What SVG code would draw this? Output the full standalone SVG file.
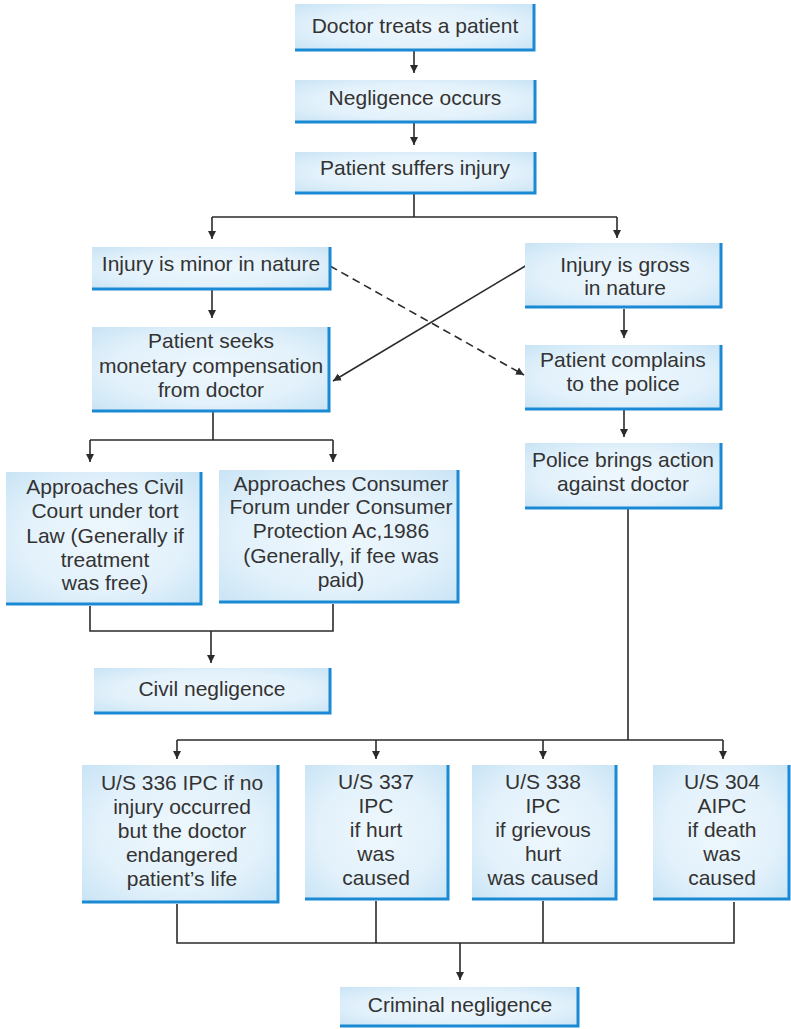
<svg xmlns="http://www.w3.org/2000/svg" width="791" height="1029" viewBox="0 0 791 1029">
<defs>
<radialGradient id="g" cx="0.5" cy="0.5" r="0.7">
<stop offset="0" stop-color="#eef7fd"/>
<stop offset="0.6" stop-color="#e2f1fb"/>
<stop offset="1" stop-color="#c9e4f5"/>
</radialGradient>
<marker id="ah" markerWidth="8" markerHeight="10" refX="8" refY="4" orient="auto" markerUnits="userSpaceOnUse" viewBox="0 0 8 8">
<path d="M0,0 L8,4 L0,8 Z" fill="#2b2b2b"/>
</marker>
<style>
.box{fill:url(#g);}
.edge{fill:none;stroke:#1a8ad4;stroke-width:3;}
.t{font-family:"Liberation Sans",Arial,sans-serif;font-size:21px;fill:#333;text-anchor:middle;}
.c{fill:none;stroke:#2b2b2b;stroke-width:1.6;}
.a{marker-end:url(#ah);}
.d{stroke-dasharray:8 5;}
</style>
</defs>
<rect width="791" height="1029" fill="#ffffff"/>

<g id="connectors">
<path class="c a" d="M414,51 V73"/>
<path class="c a" d="M414,123 V145"/>
<path class="c" d="M414,194 V217 M212,217 H617"/>
<path class="c a" d="M212,217 V239"/>
<path class="c a" d="M617,217 V238"/>
<path class="c a" d="M212,290 V318"/>
<path class="c a" d="M624,309 V338"/>
<path class="c a" d="M624,410 V437"/>
<path class="c a" d="M527,265 L333,381"/>
<path class="c a d" d="M330,266 L524,375"/>
<path class="c" d="M213,412 V440 M90,440 H333"/>
<path class="c a" d="M90,440 V462"/>
<path class="c a" d="M333,440 V462"/>
<path class="c" d="M90,606 V631 H333 V604"/>
<path class="c a" d="M211,631 V663"/>
<path class="c" d="M628,509 V740 M177,740 H723"/>
<path class="c a" d="M177,740 V759"/>
<path class="c a" d="M376,740 V759"/>
<path class="c a" d="M543,740 V759"/>
<path class="c a" d="M723,740 V759"/>
<path class="c" d="M177,904 V943 H734 V902 M376,901 V943 M543,901 V943"/>
<path class="c a" d="M460,943 V980"/>
</g>

<g id="n1"><rect class="box" x="295" y="4" width="239" height="46"/><path class="edge" d="M534,4 V50 H295"/><text class="t" x="415" y="33">Doctor treats a patient</text></g>
<g id="n2"><rect class="box" x="295" y="80" width="240" height="42"/><path class="edge" d="M535,80 V122 H295"/><text class="t" x="415" y="105">Negligence occurs</text></g>
<g id="n3"><rect class="box" x="295" y="152" width="240" height="41"/><path class="edge" d="M535,152 V193 H295"/><text class="t" x="415" y="175">Patient suffers injury</text></g>

<g id="n4"><rect class="box" x="92" y="247" width="238" height="42"/><path class="edge" d="M330,247 V289 H92"/><text class="t" x="211" y="271">Injury is minor in nature</text></g>
<g id="n5"><rect class="box" x="525" y="243" width="196" height="64"/><path class="edge" d="M721,243 V307 H525"/><text class="t" x="625" y="272">Injury is gross</text><text class="t" x="625" y="295">in nature</text></g>
<g id="n6"><rect class="box" x="92" y="327" width="237" height="84"/><path class="edge" d="M329,327 V411 H92"/><text class="t" x="211" y="348">Patient seeks</text><text class="t" x="211" y="373">monetary compensation</text><text class="t" x="211" y="397">from doctor</text></g>
<g id="n7"><rect class="box" x="525" y="345" width="196" height="64"/><path class="edge" d="M721,345 V409 H525"/><text class="t" x="623" y="367">Patient complains</text><text class="t" x="623" y="391">to the police</text></g>
<g id="n8"><rect class="box" x="525" y="443" width="196" height="65"/><path class="edge" d="M721,443 V508 H525"/><text class="t" x="623" y="467">Police brings action</text><text class="t" x="623" y="491">against doctor</text></g>

<g id="n9"><rect class="box" x="6" y="472" width="195" height="132"/><path class="edge" d="M201,472 V604 H6"/><text class="t" x="105" y="494">Approaches Civil</text><text class="t" x="105" y="518">Court under tort</text><text class="t" x="105" y="543">Law (Generally if</text><text class="t" x="105" y="567">treatment</text><text class="t" x="105" y="590">was free)</text></g>
<g id="n10"><rect class="box" x="219" y="470" width="239" height="132"/><path class="edge" d="M458,470 V602 H219"/><text class="t" x="341" y="491">Approaches Consumer</text><text class="t" x="341" y="514">Forum under Consumer</text><text class="t" x="341" y="538">Protection Ac,1986</text><text class="t" x="341" y="563">(Generally, if fee was</text><text class="t" x="341" y="587">paid)</text></g>
<g id="n11"><rect class="box" x="94" y="668" width="236" height="45"/><path class="edge" d="M330,668 V713 H94"/><text class="t" x="212" y="696">Civil negligence</text></g>

<g id="n12"><rect class="box" x="82" y="765" width="196" height="137"/><path class="edge" d="M278,765 V902 H82"/><text class="t" x="182" y="790">U/S 336 IPC if no</text><text class="t" x="182" y="814">injury occurred</text><text class="t" x="182" y="838">but the doctor</text><text class="t" x="182" y="862">endangered</text><text class="t" x="182" y="886">patient’s life</text></g>
<g id="n13"><rect class="box" x="305" y="765" width="143" height="134"/><path class="edge" d="M448,765 V899 H305"/><text class="t" x="376" y="789">U/S 337</text><text class="t" x="376" y="813">IPC</text><text class="t" x="376" y="837">if hurt</text><text class="t" x="376" y="861">was</text><text class="t" x="376" y="885">caused</text></g>
<g id="n14"><rect class="box" x="472" y="765" width="144" height="134"/><path class="edge" d="M616,765 V899 H472"/><text class="t" x="543" y="789">U/S 338</text><text class="t" x="543" y="813">IPC</text><text class="t" x="543" y="837">if grievous</text><text class="t" x="543" y="861">hurt</text><text class="t" x="543" y="885">was caused</text></g>
<g id="n15"><rect class="box" x="653" y="765" width="136" height="134"/><path class="edge" d="M789,765 V899 H653"/><text class="t" x="722" y="789">U/S 304</text><text class="t" x="722" y="813">AIPC</text><text class="t" x="722" y="837">if death</text><text class="t" x="722" y="861">was</text><text class="t" x="722" y="885">caused</text></g>

<g id="n16"><rect class="box" x="340" y="987" width="238" height="39"/><path class="edge" d="M578,987 V1026 H340"/><text class="t" x="460" y="1012">Criminal negligence</text></g>
</svg>
